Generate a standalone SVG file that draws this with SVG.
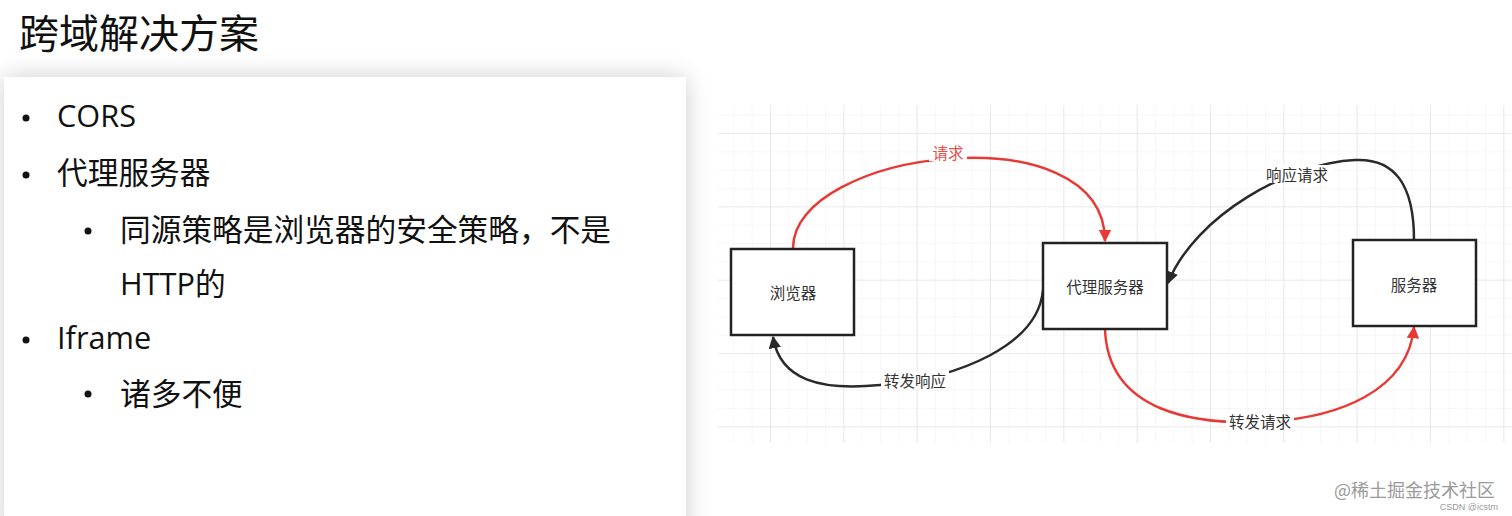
<svg xmlns="http://www.w3.org/2000/svg" width="1512" height="516" viewBox="0 0 1512 516">
<defs>
  <style>
    .cjk{font-family:"Noto Sans CJK SC","Noto Sans",sans-serif;}
    .body{font-family:"Open Sans","Noto Sans CJK SC",sans-serif;font-size:30.7px;fill:#111;}
    .box{fill:#fff;stroke:#222;stroke-width:2.5;}
    .lbl{font-family:"Noto Sans CJK SC",sans-serif;font-size:15.5px;fill:#333;text-anchor:middle;dominant-baseline:central;}
    .red{fill:none;stroke:#e83a35;stroke-width:2.5;}
    .blk{fill:none;stroke:#2a2a2a;stroke-width:2.5;}
    .elbl{font-family:"Noto Sans CJK SC",sans-serif;font-size:15.5px;text-anchor:middle;dominant-baseline:central;}
  </style>
  <pattern id="minor" x="770" y="133" width="18.333" height="18.333" patternUnits="userSpaceOnUse">
    <path d="M0,0 H18.333 M0,0 V18.333" fill="none" stroke="#efefef" stroke-width="1"/>
  </pattern>
  <pattern id="major" x="770" y="133" width="73.333" height="73.333" patternUnits="userSpaceOnUse">
    <path d="M0,0 H73.333 M0,0 V73.333" fill="none" stroke="#e0e0e0" stroke-width="1.2"/>
  </pattern>
  <filter id="shadow" x="-10%" y="-20%" width="120%" height="140%">
    <feGaussianBlur in="SourceAlpha" stdDeviation="12"/>
    <feComponentTransfer><feFuncA type="linear" slope="0.2"/></feComponentTransfer>
    <feMerge><feMergeNode/><feMergeNode in="SourceGraphic"/></feMerge>
  </filter>
  <marker id="arrRed" viewBox="0 0 10 10" refX="9" refY="5" markerWidth="5" markerHeight="5" orient="auto" markerUnits="strokeWidth">
    <path d="M0,0 L10,5 L0,10 z" fill="#e83a35"/>
  </marker>
  <marker id="arrBlk" viewBox="0 0 10 10" refX="9" refY="5" markerWidth="5" markerHeight="5" orient="auto" markerUnits="strokeWidth">
    <path d="M0,0 L10,5 L0,10 z" fill="#2a2a2a"/>
  </marker>
</defs>

<rect x="0" y="0" width="1512" height="516" fill="#ffffff"/>

<!-- title -->
<text x="19" y="48" class="cjk" font-size="40" fill="#111">跨域解决方案</text>

<!-- left panel -->
<g id="panel">
  <rect x="4" y="77" width="682" height="460" fill="#ffffff" filter="url(#shadow)"/>
  <g class="body">
    <circle cx="26" cy="118" r="3.5" fill="#111"/>
    <text x="57" y="127">CORS</text>
    <circle cx="26" cy="175" r="3.5" fill="#111"/>
    <text x="57" y="184">代理服务器</text>
    <circle cx="88" cy="231" r="3.5" fill="#111"/>
    <text x="120" y="241">同源策略是浏览器的安全策略，不是</text>
    <text x="120" y="295">HTTP的</text>
    <circle cx="26" cy="340" r="3.5" fill="#111"/>
    <text x="57" y="349">Iframe</text>
    <circle cx="88" cy="394" r="3.5" fill="#111"/>
    <text x="120" y="405">诸多不便</text>
  </g>
</g>

<!-- grid -->
<g id="grid">
  <rect x="718" y="105" width="794" height="338" fill="url(#minor)"/>
  <rect x="718" y="105" width="794" height="338" fill="url(#major)"/>
</g>

<!-- connectors -->
<g id="connectors">
  <path class="red" d="M793,248 C793,150 1105,110 1105,241" marker-end="url(#arrRed)"/>
  <rect x="929" y="143" width="38" height="18" fill="#fff"/>
  <text x="948" y="152" class="elbl" fill="#e8504a">请求</text>

  <path class="blk" d="M1414,240 C1414,185 1395,158 1355,160 C1290,163 1195,215 1168,283" marker-end="url(#arrBlk)"/>
  <rect x="1263" y="165" width="68" height="18" fill="#fff"/>
  <text x="1297" y="174" class="elbl" fill="#333">响应请求</text>

  <path class="blk" d="M1043,290 C1038,345 960,378 880,385 C820,391 780,380 773,337" marker-end="url(#arrBlk)"/>
  <rect x="881" y="371" width="68" height="18" fill="#fff"/>
  <text x="915" y="380" class="elbl" fill="#333">转发响应</text>

  <path class="red" d="M1105,329 C1108,415 1200,424 1260,422 C1340,419 1408,390 1414,327" marker-end="url(#arrRed)"/>
  <rect x="1226" y="412" width="68" height="18" fill="#fff"/>
  <text x="1260" y="421" class="elbl" fill="#333">转发请求</text>
</g>

<!-- nodes -->
<g id="browser">
  <rect class="box" x="731" y="249" width="123" height="86"/>
  <text x="793" y="292" class="lbl">浏览器</text>
</g>
<g id="proxy">
  <rect class="box" x="1043" y="243" width="124" height="86"/>
  <text x="1105" y="286" class="lbl">代理服务器</text>
</g>
<g id="server">
  <rect class="box" x="1353" y="240" width="123" height="86"/>
  <text x="1414" y="284" class="lbl">服务器</text>
</g>

<!-- watermark -->
<text x="1334" y="497" class="cjk" font-size="18" fill="#9a9a9a">@稀土掘金技术社区</text>
<text x="1498" y="510" font-family="Liberation Sans, sans-serif" font-size="9" fill="#9a9a9a" text-anchor="end">CSDN @icstm</text>
</svg>
